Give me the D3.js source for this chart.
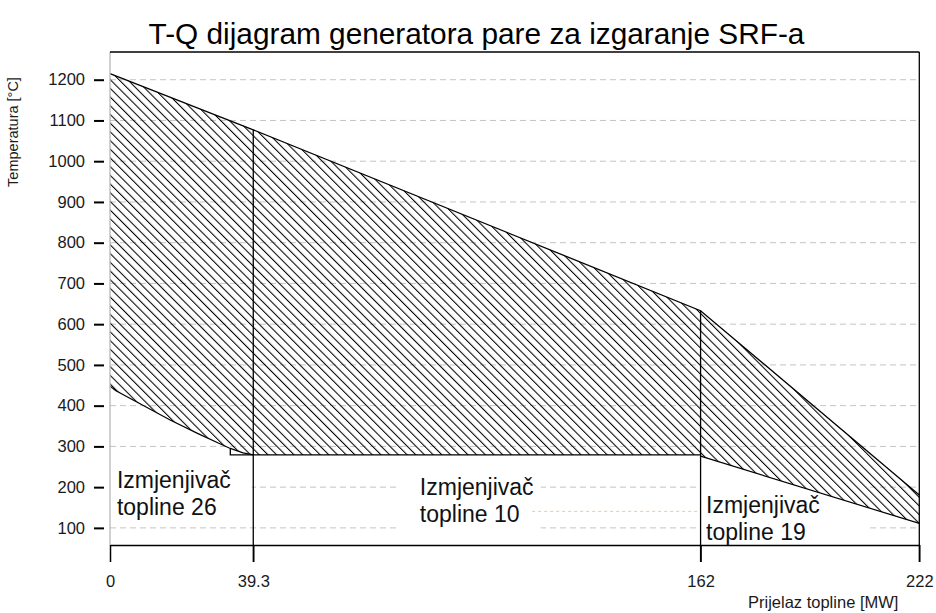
<!DOCTYPE html>
<html>
<head>
<meta charset="utf-8">
<script src="https://cdn.jsdelivr.net/npm/d3@7/dist/d3.min.js"></script>
<style>
  html, body { margin: 0; padding: 0; background: #fff; }
  svg { display: block; font-family: "Liberation Sans", Arial, sans-serif; }
</style>
</head>
<body>
<svg id="chart" width="936" height="613"></svg>
<script>
// T-Q diagram of the SRF-fired steam generator: flue gas line over the
// water/steam line, split into three heat exchangers.

const titleText = "T-Q dijagram generatora pare za izgaranje SRF-a";
const xTitle = "Prijelaz topline [MW]";
const yTitle = "Temperatura [°C]";

// heat transferred, MW
const xTicks = [0, 39.3, 162, 222];
const xTickLabels = ["0", "39.3", "162", "222"];
const yTicks = [100, 200, 300, 400, 500, 600, 700, 800, 900, 1000, 1100, 1200];

// flue gas (hot side) temperature along Q
const gasQ = [0, 39.3, 162, 222];
const gasT = [1215, 1077, 633, 181];

// exchanger 26: water/steam side between Q = 0 and 39.3
const hx26Q = [0, 1.5, 8, 16.5, 24, 30, 33, 36.5, 39.3];
const hx26T = [448, 437, 406, 365, 332, 307, 295, 284, 279];

// exchanger 10: evaporation at constant temperature
const evapQ = [33, 33, 162];
const evapT = [295, 279, 279];

// exchanger 19: water/steam side between Q = 162 and 222
const hx19Q = [162, 222];
const hx19T = [276, 111];

// faint guide line inside exchanger 10
const guideQ = [115.8, 162];
const guideT = [140.5, 140.5];

// exchanger labels
const labelLines = [["Izmjenjivač", "topline 26"], ["Izmjenjivač", "topline 10"], ["Izmjenjivač", "topline 19"]];
const labelQ = [1.9, 85, 163.5];
const labelT = [198, 181, 136];

const svg = d3.select("#chart");
const plotL = 110, plotR = 919.3, plotT = 52, plotB = 545;

const x = d3.scaleLinear().domain([0, 222]).range([plotL, plotR]);
const y = d3.scaleLinear().domain([58, 1268]).range([plotB, plotT]);

const pts = (qs, ts) => qs.map((q, i) => [q, ts[i]]);
const line = d3.line().x(d => x(d[0])).y(d => y(d[1]));

// diagonal hatch
const defs = svg.append("defs");
const pat = defs.append("pattern")
  .attr("id", "hatch")
  .attr("patternUnits", "userSpaceOnUse")
  .attr("width", 12).attr("height", 6.15)
  .attr("patternTransform", "rotate(45)");
pat.append("line")
  .attr("x1", 0).attr("x2", 12).attr("y1", 3).attr("y2", 3)
  .attr("stroke", "#000").attr("stroke-width", 1.05);

// title
svg.append("text")
  .attr("x", 476.5).attr("y", 44)
  .attr("text-anchor", "middle")
  .attr("font-size", 29.8)
  .attr("fill", "#000")
  .text(titleText);

// dashed horizontal grid
svg.append("g").selectAll("line").data(yTicks).join("line")
  .attr("x1", plotL).attr("x2", plotR)
  .attr("y1", d => y(d)).attr("y2", d => y(d))
  .attr("stroke", "#c4c4c4").attr("stroke-width", 1)
  .attr("stroke-dasharray", "6,4");

// label backgrounds (they hide the grid behind the text)
const boxPad = [
  { l: 7, r: 21, t: 4, b: 6 },
  { l: 20, r: 7, t: 7, b: 5 },
  { l: 6, r: 49, t: 16, b: 6 }
];
const boxLayer = svg.append("g");

// faint guide
svg.append("path")
  .attr("d", line(pts(guideQ, guideT)))
  .attr("fill", "none")
  .attr("stroke", "#f7c98c")
  .attr("stroke-width", 1)
  .attr("stroke-dasharray", "3,3");

// hatched areas between gas and water/steam lines
const region26 = pts([0, 39.3], [gasT[0], gasT[1]]).concat(pts(hx26Q, hx26T).reverse());
const region10 = [[39.3, gasT[1]], [162, gasT[2]], [162, evapT[2]], [39.3, evapT[2]]];
const region19 = [[162, gasT[2]], [222, gasT[3]], [222, hx19T[1]], [162, hx19T[0]]];
svg.append("g").selectAll("path").data([region26, region10, region19]).join("path")
  .attr("d", d => line(d) + "Z")
  .attr("fill", "url(#hatch)")
  .attr("stroke", "none");

// temperature lines
const stroke = (p, w) => svg.append("path").attr("d", p)
  .attr("fill", "none").attr("stroke", "#000").attr("stroke-width", w);
stroke(line(pts(gasQ, gasT)), 1.3);
stroke(line(pts(hx26Q, hx26T)), 1.2);
stroke(line(pts(evapQ, evapT)), 1.3);
stroke(line(pts(hx19Q, hx19T)), 1.2);

// exchanger boundaries, running through the axis down to the tick length
svg.append("g").selectAll("line").data([39.3, 162]).join("line")
  .attr("x1", d => x(d)).attr("x2", d => x(d))
  .attr("y1", (d, i) => y(gasT[i + 1])).attr("y2", plotB + 17)
  .attr("stroke", "#000").attr("stroke-width", 1.3);

// frame
svg.append("line").attr("x1", plotL).attr("x2", plotL).attr("y1", plotT).attr("y2", plotB)
  .attr("stroke", "#b8b8b8").attr("stroke-width", 1.3);
svg.append("line").attr("x1", plotL).attr("x2", plotR).attr("y1", plotT).attr("y2", plotT)
  .attr("stroke", "#000").attr("stroke-width", 1.3);
svg.append("line").attr("x1", plotR).attr("x2", plotR).attr("y1", plotT).attr("y2", plotB + 17)
  .attr("stroke", "#000").attr("stroke-width", 1.3);

// x axis
const xAxis = svg.append("g")
  .attr("transform", `translate(0,${plotB})`)
  .call(d3.axisBottom(x).tickValues(xTicks)
    .tickFormat((d, i) => xTickLabels[i])
    .tickSizeInner(17).tickSizeOuter(0).tickPadding(13));
xAxis.select(".domain").attr("stroke", "#000").attr("stroke-width", 1.3);
xAxis.selectAll(".tick line").attr("stroke", "#000").attr("stroke-width", 1.5);
xAxis.selectAll("text").attr("font-size", 16.5).attr("fill", "#1a1a1a")
  .attr("font-family", "'Liberation Sans', Arial, sans-serif");

// y axis (ticks stand off from the frame)
const yAxis = svg.append("g")
  .attr("transform", `translate(${plotL - 6},0)`)
  .call(d3.axisLeft(y).tickValues(yTicks).tickFormat(d3.format("d"))
    .tickSizeInner(10).tickSizeOuter(0).tickPadding(9));
yAxis.select(".domain").remove();
yAxis.selectAll(".tick line").attr("stroke", "#000").attr("stroke-width", 2);
yAxis.selectAll("text").attr("font-size", 16.5).attr("fill", "#1a1a1a")
  .attr("font-family", "'Liberation Sans', Arial, sans-serif");

// axis titles
svg.append("text")
  .attr("transform", "translate(18,132) rotate(-90)")
  .attr("text-anchor", "middle")
  .attr("font-size", 14.5)
  .attr("fill", "#1a1a1a")
  .text(yTitle);
svg.append("text")
  .attr("x", 748).attr("y", 608)
  .attr("font-size", 16.5)
  .attr("fill", "#1a1a1a")
  .text(xTitle);

// exchanger labels
labelLines.forEach((lines, i) => {
  const lx = x(labelQ[i]), ly = y(labelT[i]);
  const t = svg.append("text")
    .attr("x", lx).attr("y", ly)
    .attr("font-size", 23)
    .attr("fill", "#111");
  lines.forEach((s, k) => t.append("tspan").attr("x", lx).attr("dy", k ? 26.7 : 0).text(s));
  const bb = t.node().getBBox();
  const p = boxPad[i];
  boxLayer.append("rect")
    .attr("x", bb.x - p.l).attr("y", bb.y - p.t)
    .attr("width", bb.width + p.l + p.r).attr("height", bb.height + p.t + p.b)
    .attr("fill", "#fff");
});
</script>
</body>
</html>
